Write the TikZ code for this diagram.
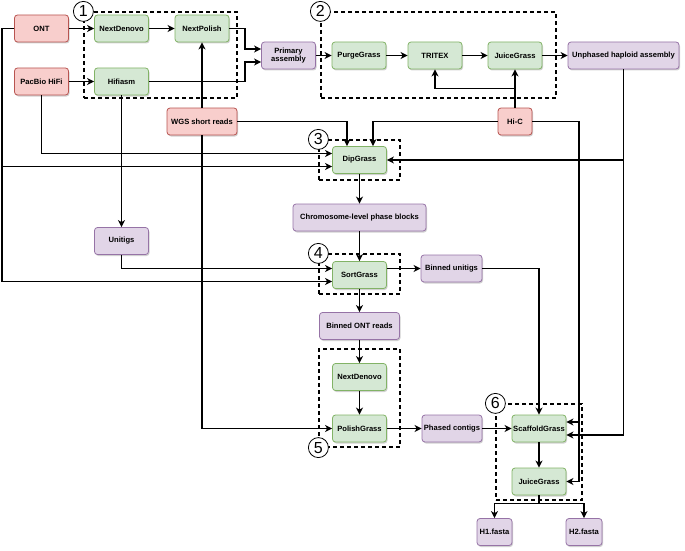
\documentclass[tikz,border=0pt]{standalone}
\usepackage{fontspec}
\setsansfont{Liberation Sans}
\usepackage{tikz}
\usepackage{xcolor}
\usetikzlibrary{arrows.meta, positioning, calc, shadows}

\definecolor{redfill}{HTML}{F8CECC}
\definecolor{redline}{HTML}{B85450}
\definecolor{greenfill}{HTML}{D5E8D4}
\definecolor{greenline}{HTML}{82B366}
\definecolor{purplefill}{HTML}{E1D5E7}
\definecolor{purpleline}{HTML}{9673A6}

\begin{document}
\begin{tikzpicture}[
  x=1pt, y=-1pt,
  % Define colors
  inputbox/.style={basebox, draw=redline, fill=redfill},
  toolbox/.style={basebox, draw=greenline, fill=greenfill},
  databox/.style={basebox, draw=purpleline, fill=purplefill},
  % Base style for boxes
  basebox/.style={draw, rounded corners=3pt, line width=0.8pt, minimum width=54pt,
    minimum height=27pt, inner sep=1pt, align=center,
    font=\sffamily\bfseries\fontsize{7.6}{8.6}\selectfont,
    drop shadow={shadow xshift=1pt, shadow yshift=-1.5pt, opacity=0.18, fill=black}},
  % Dashed stage frames and their numbers
  stagebox/.style={draw, dash pattern=on 4pt off 3pt, line width=1.2pt, inner sep=0pt},
  stagenum/.style={draw, circle, fill=white, line width=0.8pt, minimum size=20pt,
    inner sep=0pt, font=\sffamily\fontsize{16}{16}\selectfont},
  arr/.style={-{Stealth[length=7pt, width=7pt, inset=2pt]}, line width=1.25pt}
]
  \useasboundingbox (0,0) rectangle (685,551);

  % Stage frames
  \node[stagebox, minimum width=153pt, minimum height=86pt] (g1) at (160.5,55) {};
  \node[stagebox, minimum width=235pt, minimum height=86pt] (g2) at (438.5,55) {};
  \node[stagebox, minimum width=81pt, minimum height=40pt] (g3) at (359.5,160) {};
  \node[stagebox, minimum width=81pt, minimum height=40pt] (g4) at (359.5,274) {};
  \node[stagebox, minimum width=81pt, minimum height=98pt] (g5) at (359.5,398) {};
  \node[stagebox, minimum width=86pt, minimum height=96pt] (g6) at (539,452) {};

  % Sequencing inputs
  \node[inputbox] (ont) at (41.5,28.5) {ONT};
  \node[inputbox] (hifi) at (41.5,81.5) {PacBio HiFi};
  \node[inputbox, minimum width=70pt] (wgs) at (202,121.5) {WGS short reads};
  \node[inputbox, minimum width=34pt] (hic) at (515,121.5) {Hi-C};

  % Stage 1: primary assembly
  \node[toolbox] (nd1) at (121.5,28.5) {NextDenovo};
  \node[toolbox] (np) at (202,28.5) {NextPolish};
  \node[toolbox] (hifiasm) at (121.5,81.5) {Hifiasm};
  \node[databox] (primary) at (288.5,55.5) {Primary\\assembly};

  % Stage 2: haploid assembly
  \node[toolbox] (purge) at (359,55.5) {PurgeGrass};
  \node[toolbox] (tritex) at (435,55.5) {TRITEX};
  \node[toolbox] (juice1) at (515,55.5) {JuiceGrass};
  \node[databox, minimum width=111pt] (unphased) at (623.5,55.5) {Unphased haploid assembly};

  % Stages 3 and 4: phasing and binning
  \node[toolbox] (dip) at (359.5,160) {DipGrass};
  \node[databox, minimum width=133pt] (chrom) at (359.5,217.5) {Chromosome-level phase blocks};
  \node[databox] (unitigs) at (121.5,241) {Unitigs};
  \node[toolbox] (sort) at (359.5,275) {SortGrass};
  \node[databox, minimum width=61pt] (binunit) at (451.5,268.5) {Binned unitigs};
  \node[databox, minimum width=80pt] (binont) at (359.5,326) {Binned ONT reads};

  % Stage 5: haplotype contigs
  \node[toolbox] (nd2) at (359.5,377) {NextDenovo};
  \node[toolbox] (polish) at (359.5,428.5) {PolishGrass};
  \node[databox, minimum width=60pt] (phased) at (452,428.5) {Phased contigs};

  % Stage 6: scaffolding
  \node[toolbox] (scaffold) at (539,428.5) {ScaffoldGrass};
  \node[toolbox] (juice2) at (539,481.5) {JuiceGrass};
  \node[databox, minimum width=35pt] (h1) at (494.5,532) {H1.fasta};
  \node[databox, minimum width=36pt] (h2) at (584,532) {H2.fasta};

  % Bend points
  \coordinate (busP) at (245,0);
  \coordinate (busL) at (2,0);
  \coordinate (busH) at (579,0);
  \coordinate (hicup) at ($(hic.north)!0.5!(juice1.south)$);
  \coordinate (split) at ($(juice2.south)+(0,8)$);

  % Stage 1 arrows
  \draw[arr] (ont) -- (nd1);
  \draw[arr] (nd1) -- (np);
  \draw[arr] (hifi) -- (hifiasm);
  \draw[arr] (np.east) -- (np.east -| busP) |- ([yshift=6.5pt]primary.west);
  \draw[arr] (hifiasm.east) -- (hifiasm.east -| busP) |- ([yshift=-6.5pt]primary.west);

  % Stage 2 arrows
  \draw[arr] (primary) -- (purge);
  \draw[arr] (purge) -- (tritex);
  \draw[arr] (tritex) -- (juice1);
  \draw[arr] (juice1) -- (unphased);
  \draw[arr] (hic.north) -- (juice1.south);
  \draw[arr] (hicup) -| (tritex.south);

  % Into DipGrass
  \draw[arr] (wgs.east) -| ([xshift=-12.5pt]dip.north);
  \draw[arr] (hic.west) -| ([xshift=13.5pt]dip.north);
  \draw[arr] (hifi.south) |- ([yshift=6.5pt]dip.west);
  \draw[arr] (ont.west) -- (ont.west -| busL) |- ([yshift=-6.5pt]dip.west);
  \draw[arr] (unphased.south |- dip.east) -- (dip.east);

  % WGS short reads to the polishers
  \draw[arr] (wgs.north) -- (np.south);
  \draw[arr] (wgs.south) |- (polish.west);

  % Phasing chain
  \draw[arr] (dip) -- (chrom);
  \draw[arr] (chrom) -- (sort);
  \draw[arr] (hifiasm) -- (unitigs);
  \draw[arr] (unitigs.south) |- ([yshift=6.5pt]sort.west);
  \draw[arr] (ont.west -| busL) |- ([yshift=-6.5pt]sort.west);
  \draw[arr] ([yshift=6.5pt]sort.east) -- (binunit.west);
  \draw[arr] (sort) -- (binont);
  \draw[arr] (binont) -- (nd2);
  \draw[arr] (nd2) -- (polish);
  \draw[arr] (polish) -- (phased);

  % Scaffolding
  \draw[arr] (phased) -- (scaffold);
  \draw[arr] (binunit.east) -| (scaffold.north);
  \draw[arr] (hic.east) -- (hic.east -| busH) |- ([yshift=6.5pt]scaffold.east);
  \draw[arr] (hic.east -| busH) |- (juice2.east);
  \draw[arr] (unphased.south) |- ([yshift=-6.5pt]scaffold.east);
  \draw[arr] (scaffold) -- (juice2);
  \draw[line width=1.25pt] (juice2.south) -- (split);
  \draw[arr] (split) -| (h1.north);
  \draw[arr] (split) -| (h2.north);

  % Stage numbers
  \node[stagenum] at (g1.north west) {1};
  \node[stagenum] at (g2.north west) {2};
  \node[stagenum] at (g3.north west) {3};
  \node[stagenum] at (g4.north west) {4};
  \node[stagenum] at (g5.south west) {5};
  \node[stagenum] at (g6.north west) {6};

\end{tikzpicture}
\end{document}
